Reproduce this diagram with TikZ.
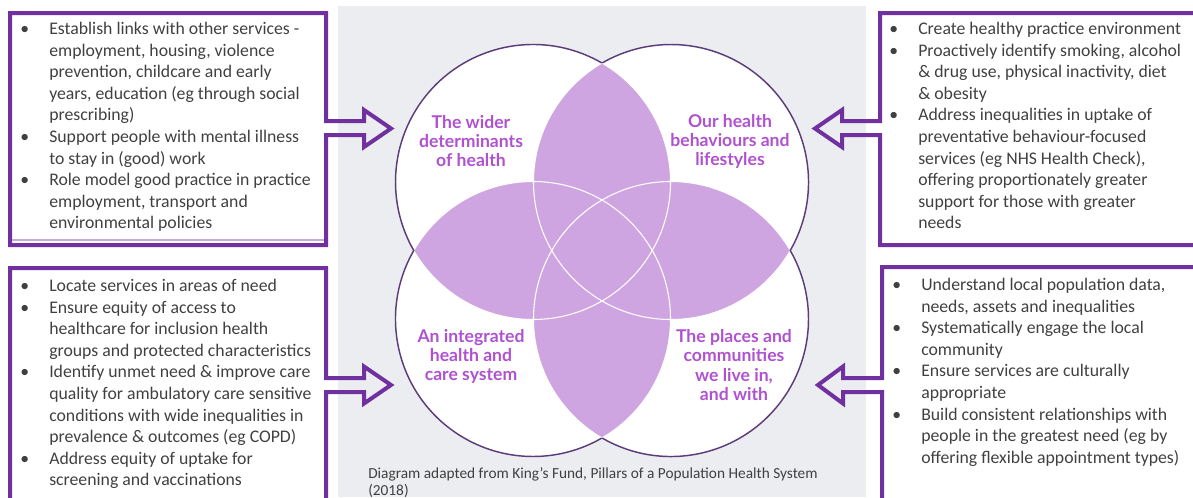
\documentclass[tikz,border=0pt]{standalone}
\usepackage{fontspec}
\setmainfont{Carlito}
\newfontfamily\lato{Lato}
\usetikzlibrary{positioning}

\definecolor{framepurple}{RGB}{112,48,160}
\definecolor{ringpurple}{RGB}{92,60,122}
\definecolor{petalpurple}{RGB}{207,165,225}
\definecolor{labelpurple}{RGB}{176,82,208}
\definecolor{bodygrey}{RGB}{64,64,64}
\definecolor{bggrey}{RGB}{236,237,240}

\newcommand{\itm}{\makebox[21.75pt][l]{\textbullet}}
\newcommand{\cnt}{\hspace*{21.75pt}}

\tikzset{
	panelframe/.style={draw=framepurple, line width=3pt, line join=miter},
	bullets/.style={anchor=north west, inner sep=0pt, align=left, text=bodygrey,
		font=\fontsize{13.3}{16.2}\selectfont},
	pillar/.style={align=center, inner sep=0pt, text=labelpurple,
		font=\lato\bfseries\fontsize{13.2}{14.3}\selectfont},
	ring/.style={draw=ringpurple, line width=1.1pt}
}

\begin{document}
\begin{tikzpicture}[x=0.75pt, y=-0.75pt]
	\useasboundingbox (0,0) rectangle (1193,497);
	\fill[bggrey] (338,6) rectangle (866,497);

	\coordinate (TL) at (533,182);
	\coordinate (TR) at (671,182);
	\coordinate (BL) at (533,319);
	\coordinate (BR) at (671,319);

	\fill[white] (TL) circle[radius=137.5];
	\fill[white] (TR) circle[radius=137.5];
	\fill[white] (BL) circle[radius=137.5];
	\fill[white] (BR) circle[radius=137.5];

	\begin{scope}
		\clip (TL) circle[radius=137.5];
		\fill[petalpurple] (TR) circle[radius=137.5];
		\fill[petalpurple] (BL) circle[radius=137.5];
	\end{scope}
	\begin{scope}
		\clip (BR) circle[radius=137.5];
		\fill[petalpurple] (TR) circle[radius=137.5];
		\fill[petalpurple] (BL) circle[radius=137.5];
	\end{scope}

	\draw[white, line width=0.8pt] (TL) circle[radius=137.5];
	\draw[white, line width=0.8pt] (TR) circle[radius=137.5];
	\draw[white, line width=0.8pt] (BL) circle[radius=137.5];
	\draw[white, line width=0.8pt] (BR) circle[radius=137.5];

	\draw[ring] (TL) ++(-60:137.5) arc[start angle=-60, end angle=-210, radius=137.5];
	\draw[ring] (TR) ++(30:137.5) arc[start angle=30, end angle=-120, radius=137.5];
	\draw[ring] (BL) ++(-150:137.5) arc[start angle=-150, end angle=-300, radius=137.5];
	\draw[ring] (BR) ++(-240:137.5) arc[start angle=-240, end angle=-390, radius=137.5];

	\node[pillar] (wider) at (471,141) {The wider\\determinants\\of health};
	\node[pillar] (behaviours) at (730,141) {Our health\\behaviours and\\lifestyles};
	\node[pillar] (integrated) at (471,356) {An integrated\\health and\\care system};
	\node[pillar] (places) at (734,365) {The places and\\communities\\we live in,\\and with};

	\node[anchor=north west, inner sep=0pt, align=left, text=bodygrey,
		font=\fontsize{11.5}{12.9}\selectfont] (source) at (368,467)
		{Diagram adapted from King’s Fund, Pillars of a Population Health System\\(2018)};

	\draw[panelframe] (326,121) -- (326,13) -- (10,13) -- (10,245) -- (326,245) -- (326,135)
		-- (364,135) -- (364,147) -- (391,128.5) -- (364,110) -- (364,121) -- cycle;
	\draw[framepurple!40, line width=0.8pt] (12,240) -- (324,240);
	\draw[panelframe] (326,378) -- (326,268) -- (10,268) -- (10,510) -- (326,510) -- (326,392)
		-- (364,392) -- (364,403.5) -- (391,385) -- (364,366.5) -- (364,378) -- cycle;
	\draw[panelframe] (880,121) -- (880,13) -- (1205,13) -- (1205,245) -- (880,245) -- (880,135)
		-- (842,135) -- (842,147) -- (815,128.5) -- (842,110) -- (842,121) -- cycle;
	\draw[panelframe] (882,378) -- (882,267) -- (1205,267) -- (1205,510) -- (882,510) -- (882,392)
		-- (843,392) -- (843,403.5) -- (818,385) -- (843,366.5) -- (843,378) -- cycle;

	\node[bullets] (widerlist) at (20,22)
		{\itm Establish links with other services -\\
		\cnt employment, housing, violence\\
		\cnt prevention, childcare and early\\
		\cnt years, education (eg through social\\
		\cnt prescribing)\\
		\itm Support people with mental illness\\
		\cnt to stay in (good) work\\
		\itm Role model good practice in practice\\
		\cnt employment, transport and\\
		\cnt environmental policies};

	\node[bullets] (behaviourslist) at (889,22)
		{\itm Create healthy practice environment\\
		\itm Proactively identify smoking, alcohol\\
		\cnt \& drug use, physical inactivity, diet\\
		\cnt \& obesity\\
		\itm Address inequalities in uptake of\\
		\cnt preventative behaviour-focused\\
		\cnt services (eg NHS Health Check),\\
		\cnt offering proportionately greater\\
		\cnt support for those with greater\\
		\cnt needs};

	\node[bullets] (integratedlist) at (20,279)
		{\itm Locate services in areas of need\\
		\itm Ensure equity of access to\\
		\cnt healthcare for inclusion health\\
		\cnt groups and protected characteristics\\
		\itm Identify unmet need \& improve care\\
		\cnt quality for ambulatory care sensitive\\
		\cnt conditions with wide inequalities in\\
		\cnt prevalence \& outcomes (eg COPD)\\
		\itm Address equity of uptake for\\
		\cnt screening and vaccinations};

	\node[bullets] (placeslist) at (892,278)
		{\itm Understand local population data,\\
		\cnt needs, assets and inequalities\\
		\itm Systematically engage the local\\
		\cnt community\\
		\itm Ensure services are culturally\\
		\cnt appropriate\\
		\itm Build consistent relationships with\\
		\cnt people in the greatest need (eg by\\
		\cnt offering flexible appointment types)};
\end{tikzpicture}
\end{document}
